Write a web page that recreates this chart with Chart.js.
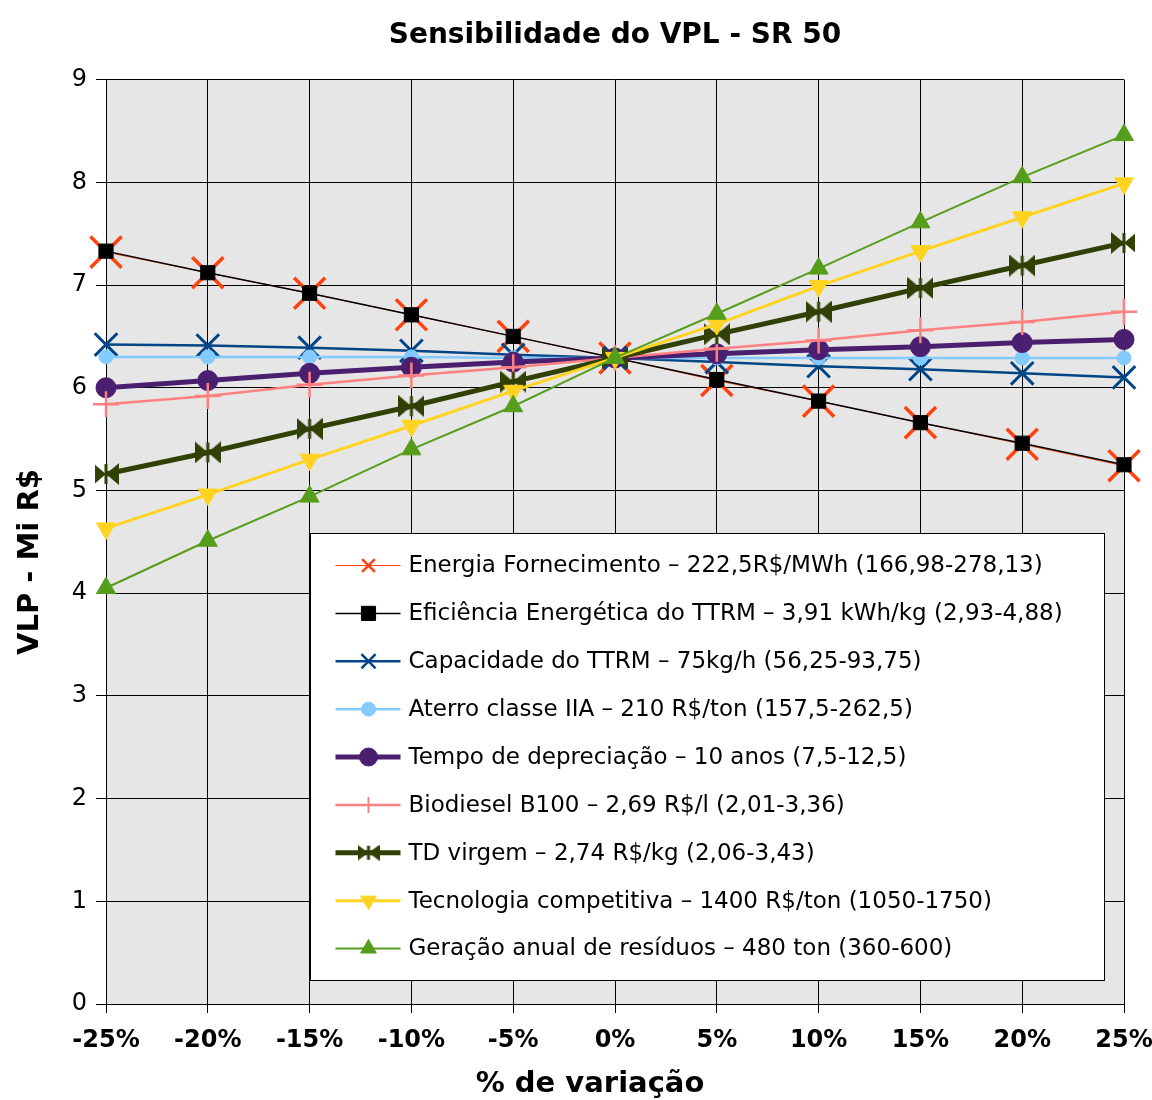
<!DOCTYPE html>
<html>
<head>
<meta charset="utf-8">
<script src="https://cdn.jsdelivr.net/npm/chart.js@4.4.1/dist/chart.umd.min.js"></script>
<style>
  html, body { margin: 0; padding: 0; background: #ffffff; }
  canvas { display: block; }
</style>
</head>
<body>
<canvas id="chart" width="1152" height="1100"></canvas>
<script>
// Variação percentual de cada parâmetro
const categories = ['-25%', '-20%', '-15%', '-10%', '-5%', '0%', '5%', '10%', '15%', '20%', '25%'];
const yTicks = [0, 1, 2, 3, 4, 5, 6, 7, 8, 9];

// VPL (Mi R$) para cada parâmetro
const energiaFornecimento = [7.32, 7.12, 6.92, 6.71, 6.50, 6.29, 6.07, 5.87, 5.66, 5.45, 5.24];
const eficienciaEnergetica = [7.33, 7.12, 6.92, 6.71, 6.50, 6.29, 6.08, 5.87, 5.66, 5.46, 5.25];
const capacidadeTTRM = [6.42, 6.41, 6.39, 6.36, 6.32, 6.29, 6.25, 6.21, 6.18, 6.14, 6.10];
const aterroClasseIIA = [6.30, 6.30, 6.30, 6.30, 6.29, 6.29, 6.29, 6.29, 6.29, 6.29, 6.29];
const tempoDepreciacao = [6.00, 6.07, 6.14, 6.20, 6.25, 6.29, 6.33, 6.37, 6.40, 6.44, 6.47];
const biodieselB100 = [5.84, 5.92, 6.03, 6.12, 6.20, 6.29, 6.38, 6.46, 6.56, 6.64, 6.74];
const tdVirgem = [5.16, 5.37, 5.60, 5.82, 6.06, 6.29, 6.52, 6.74, 6.97, 7.19, 7.41];
const tecnologiaCompetitiva = [4.63, 4.96, 5.30, 5.63, 5.97, 6.29, 6.62, 6.99, 7.33, 7.66, 7.99];
const geracaoResiduos = [4.05, 4.51, 4.94, 5.40, 5.82, 6.29, 6.72, 7.16, 7.61, 8.05, 8.46];

const seriesLabels = [
  'Energia Fornecimento \u2013 222,5R$/MWh (166,98-278,13)',
  'Efici\u00eancia Energ\u00e9tica do TTRM \u2013 3,91 kWh/kg (2,93-4,88)',
  'Capacidade do TTRM \u2013 75kg/h (56,25-93,75)',
  'Aterro classe IIA \u2013 210 R$/ton (157,5-262,5)',
  'Tempo de deprecia\u00e7\u00e3o \u2013 10 anos (7,5-12,5)',
  'Biodiesel B100 \u2013 2,69 R$/l (2,01-3,36)',
  'TD virgem \u2013 2,74 R$/kg (2,06-3,43)',
  'Tecnologia competitiva \u2013 1400 R$/ton (1050-1750)',
  'Gera\u00e7\u00e3o anual de res\u00edduos \u2013 480 ton (360-600)'
];

const xTitle = '% de varia\u00e7\u00e3o';
const yTitle = 'VLP - Mi R$';

// Marcador "gravata" (dois triângulos opostos)
function bowtie(w, h, color) {
  const c = document.createElement('canvas');
  c.width = w; c.height = h;
  const g = c.getContext('2d');
  g.fillStyle = color;
  g.beginPath();
  g.moveTo(0, 0); g.lineTo(w / 2, h / 2); g.lineTo(0, h); g.closePath();
  g.moveTo(w, 0); g.lineTo(w / 2, h / 2); g.lineTo(w, h); g.closePath();
  g.fill();
  g.fillRect(w / 2 - 1.5, 1, 3, h - 2);
  return c;
}

const bowtieBig = bowtie(26, 22, '#314004');
const bowtieSmall = bowtie(22, 16, '#314004');

function series(label, data, color, lineWidth, point, legendPoint) {
  return {
    label, data,
    borderColor: color,
    backgroundColor: color,
    borderWidth: lineWidth,
    pointStyle: point.style,
    pointRadius: point.radius,
    pointRotation: point.rotation || 0,
    pointBorderWidth: point.border,
    pointBackgroundColor: color,
    pointBorderColor: color,
    tension: 0,
    legendPoint
  };
}

const datasets = [
  series(seriesLabels[0], energiaFornecimento, '#ff420e', 1,
    { style: 'crossRot', radius: 22, border: 3.5 }, { style: 'crossRot', radius: 9, border: 2.5 }),
  series(seriesLabels[1], eficienciaEnergetica, '#000000', 1.5,
    { style: 'rect', radius: 10, border: 1 }, { style: 'rect', radius: 10, border: 1 }),
  series(seriesLabels[2], capacidadeTTRM, '#004586', 2.5,
    { style: 'crossRot', radius: 16, border: 3 }, { style: 'crossRot', radius: 10, border: 2.5 }),
  series(seriesLabels[3], aterroClasseIIA, '#83caff', 2.5,
    { style: 'circle', radius: 7, border: 1 }, { style: 'circle', radius: 7, border: 1 }),
  series(seriesLabels[4], tempoDepreciacao, '#4b1f6f', 5,
    { style: 'circle', radius: 10, border: 1 }, { style: 'circle', radius: 9, border: 1 }),
  series(seriesLabels[5], biodieselB100, '#ff8080', 2.5,
    { style: 'cross', radius: 13, border: 2.5 }, { style: 'cross', radius: 8, border: 2 }),
  series(seriesLabels[6], tdVirgem, '#314004', 5,
    { style: bowtieBig, radius: 11, border: 0 }, { style: bowtieSmall, radius: 8, border: 0 }),
  series(seriesLabels[7], tecnologiaCompetitiva, '#ffd320', 3,
    { style: 'triangle', radius: 11, border: 1, rotation: 180 }, { style: 'triangle', radius: 9, border: 1, rotation: 180 }),
  series(seriesLabels[8], geracaoResiduos, '#579d1c', 2,
    { style: 'triangle', radius: 11, border: 1 }, { style: 'triangle', radius: 9, border: 1 })
];
// séries posteriores desenhadas por cima
datasets.forEach((d, i) => { d.order = datasets.length - i; });

// Fundo cinza da área de plotagem
const plotBackground = {
  id: 'plotBackground',
  beforeDraw(chart) {
    const { ctx, chartArea: a } = chart;
    ctx.save();
    ctx.fillStyle = '#e6e6e6';
    ctx.fillRect(a.left, a.top, a.right - a.left, a.bottom - a.top);
    ctx.restore();
  }
};

// Títulos dos eixos
const axisTitles = {
  id: 'axisTitles',
  afterDraw(chart) {
    const { ctx } = chart;
    ctx.save();
    ctx.fillStyle = '#000000';
    ctx.font = 'bold 29px "DejaVu Sans"';
    ctx.textAlign = 'center';
    ctx.textBaseline = 'middle';
    ctx.fillText(xTitle, 590, 1084);
    ctx.translate(30, 562);
    ctx.rotate(-Math.PI / 2);
    ctx.fillText(yTitle, 0, 0);
    ctx.restore();
  }
};

// Legenda em caixa dentro da área de plotagem
const boxedLegend = {
  id: 'boxedLegend',
  afterDraw(chart) {
    const { ctx, chartArea: a } = chart;
    const w = a.right - a.left, h = a.bottom - a.top;
    const left = Math.round(a.left + w * 0.2) + 0.5;
    const right = Math.round(a.right - w * 0.0197) + 0.5;
    const top = Math.round(a.top + h * 0.4903) + 0.5;
    const bottom = Math.round(a.top + h * 0.974) + 0.5;
    ctx.save();
    ctx.fillStyle = '#ffffff';
    ctx.fillRect(left, top, right - left, bottom - top);
    ctx.strokeStyle = '#000000';
    ctx.lineWidth = 1;
    ctx.strokeRect(left, top, right - left, bottom - top);

    const ds = chart.data.datasets;
    const rowGap = (bottom - top - 64) / (ds.length - 1);
    ctx.font = '23px "DejaVu Sans"';
    ctx.textBaseline = 'middle';
    ctx.textAlign = 'left';
    ds.forEach((d, i) => {
      const yy = top + 32 + i * rowGap;
      ctx.strokeStyle = d.borderColor;
      ctx.lineWidth = d.borderWidth;
      ctx.beginPath();
      ctx.moveTo(left + 25, yy);
      ctx.lineTo(left + 90, yy);
      ctx.stroke();
      const p = d.legendPoint;
      ctx.fillStyle = d.borderColor;
      ctx.strokeStyle = d.borderColor;
      ctx.lineWidth = p.border;
      Chart.helpers.drawPoint(ctx, {
        pointStyle: p.style, radius: p.radius, rotation: p.rotation || 0, borderWidth: p.border
      }, left + 58, yy);
      ctx.fillStyle = '#000000';
      ctx.fillText(d.label, left + 98, yy + 1);
    });
    ctx.restore();
  }
};

Chart.defaults.color = '#000000';
Chart.defaults.font.family = '"DejaVu Sans", sans-serif';

new Chart(document.getElementById('chart'), {
  type: 'line',
  data: { labels: categories, datasets },
  plugins: [plotBackground, axisTitles, boxedLegend],
  options: {
    responsive: false,
    animation: false,
    devicePixelRatio: 1,
    layout: { padding: { left: 0, right: 0, top: 0, bottom: 0 } },
    plugins: {
      legend: { display: false },
      tooltip: { enabled: false },
      title: {
        display: true,
        fullSize: false,
        text: 'Sensibilidade do VPL - SR 50',
        color: '#000000',
        font: { family: '"DejaVu Sans"', size: 28, weight: 'bold' },
        padding: { top: 19, bottom: 27 }
      }
    },
    scales: {
      x: {
        type: 'category',
        offset: false,
        grid: { color: '#000000', lineWidth: 1, drawTicks: true, tickLength: 9, tickColor: '#000000' },
        border: { color: '#000000', width: 1 },
        ticks: {
          color: '#000000',
          font: { family: '"DejaVu Sans"', size: 24, weight: 'bold' },
          padding: 13,
          maxRotation: 0,
          autoSkip: false
        },
        afterFit(scale) {
          scale.height = 96;
          scale.paddingRight = 28;
          scale.paddingLeft = 0;
        }
      },
      y: {
        min: 0,
        max: 9,
        afterBuildTicks(scale) { scale.ticks = yTicks.map(v => ({ value: v })); },
        grid: { color: '#000000', lineWidth: 1, drawTicks: true, tickLength: 10, tickColor: '#000000' },
        border: { color: '#000000', width: 1 },
        ticks: {
          color: '#000000',
          font: { family: '"DejaVu Sans"', size: 24 },
          padding: 9
        },
        afterFit(scale) { scale.width = 106; }
      }
    }
  }
});
</script>
</body>
</html>
